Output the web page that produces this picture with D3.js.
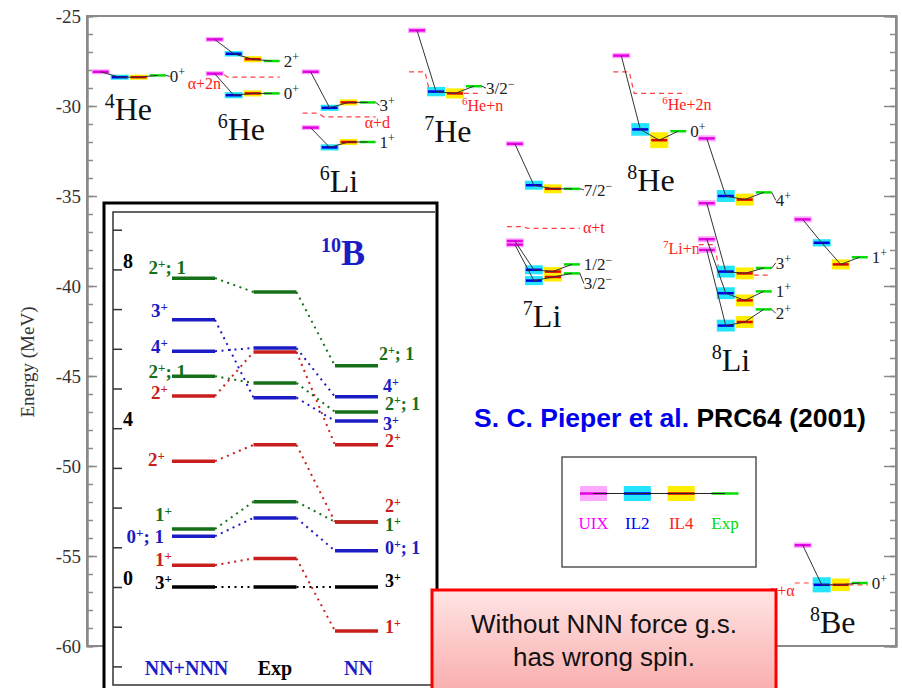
<!DOCTYPE html>
<html>
<head>
<meta charset="utf-8">
<script src="https://cdn.jsdelivr.net/npm/d3@7"></script>
<style>
  body { margin: 0; background: #fff; }
  svg { display: block; }
</style>
</head>
<body>
<svg id="chart" width="902" height="688"></svg>
<script>
// ---------------- data: light nuclei (MeV) ----------------
const models = ["UIX", "IL2", "IL4", "Exp"];
const groupNames = ["4He", "6He", "6Li", "7He", "7Li", "8He", "8Li", "8Be"];

const stateNucleus = ["4He", "6He", "6He", "6Li", "6Li", "7He", "7Li", "7Li", "7Li", "8He", "8Li", "8Li", "8Li", "8Li", "8Be", "8Be"];
const stateJpi = ["0^{+}", "2^{+}", "0^{+}", "3^{+}", "1^{+}", "3/2^{−}", "7/2^{−}", "1/2^{−}", "3/2^{−}", "0^{+}", "4^{+}", "3^{+}", "1^{+}", "2^{+}", "1^{+}", "0^{+}"];
const eUIX = [-28.1, -26.3, -28.2, -28.1, -31.2, -25.8, -32.1, -37.5, -37.7, -27.2, -31.8, -35.4, -37.4, -38.0, -36.3, -54.4];
const eIL2 = [-28.4, -27.1, -29.4, -30.1, -32.3, -29.2, -34.4, -39.1, -39.7, -31.3, -35.0, -39.2, -40.4, -42.2, -37.6, -56.6];
const eIL4 = [-28.4, -27.4, -29.3, -29.8, -32.0, -29.3, -34.6, -39.2, -39.5, -31.9, -35.2, -39.3, -40.8, -42.0, -38.8, -56.6];
const eExp = [-28.3, -27.5, -29.3, -29.8, -32.0, -28.9, -34.6, -38.8, -39.3, -31.4, -34.8, -39.0, -40.3, -41.3, -38.4, -56.5];
const errUIX = [0.05, 0.12, 0.12, 0.12, 0.12, 0.15, 0.15, 0.15, 0.15, 0.15, 0.17, 0.17, 0.17, 0.17, 0.17, 0.15];
const errIL2 = [0.05, 0.15, 0.17, 0.17, 0.17, 0.26, 0.25, 0.25, 0.25, 0.35, 0.33, 0.33, 0.33, 0.33, 0.2, 0.42];
const errIL4 = [0.05, 0.17, 0.17, 0.17, 0.17, 0.28, 0.25, 0.25, 0.25, 0.44, 0.33, 0.33, 0.33, 0.33, 0.28, 0.35];

const thrNucleus = ["6He", "6Li", "7He", "7Li", "8He", "8Li", "8Be"];
const thrLabel = ["α+2n", "α+d", "^{6}He+n", "α+t", "^{6}He+2n", "^{7}Li+n", "α+α"];
const thrUIX = [-28.2, -30.4, -28.1, -36.7, -28.1, -37.7, -56.5];
const thrOther = [-28.4, -30.6, -29.3, -36.8, -29.3, -39.4, -56.6];

// ---------------- data: 10B excitation spectrum (MeV) ----------------
const tenBColumns = ["NN+NNN", "Exp", "NN"];
const tenBJpi = ["2^{+}; 1", "3^{+}", "4^{+}", "2^{+}; 1", "2^{+}", "2^{+}", "1^{+}", "0^{+}; 1", "1^{+}", "3^{+}"];
const tenBFull = [7.78, 6.73, 5.94, 5.31, 4.81, 3.17, 1.46, 1.28, 0.55, 0];
const tenBExp = [7.43, 4.77, 6.02, 5.14, 5.92, 3.58, 2.15, 1.74, 0.72, 0];
const tenBNN = [5.57, 4.18, 4.79, 4.41, 3.58, 1.64, 1.64, 0.91, -1.11, 0];
const tenBTicks = [8, 4, 0];

// ---------------- layout / style ----------------
const groupSlot = [0.3, 6.3, 11.35, 16.95, 22.1, 27.7, 32.2, 37.25]; // first sub-level slot of each nucleus
const nucLabelDx = [0.63, 0.58, 0.9, 0.8, 0.84, 0.74, 0.68, 0.8];
const nucLabelE = [-30.8, -31.9, -34.8, -32.0, -42.3, -34.7, -44.7, -59.3];
const stateLabelShift = [1, 0, 0, 3, 0, 2, 1, 0, 10, 0, 8, -5, 0, 4, 0, 0];
const thrLabelDx = [-19, 62, 53, 76, 49, 1, 0];
const thrLabelE = [-29.05, -31.2, -30.3, -37.05, -30.2, -38.2, -57.2];
const thrLabelAnchor = ["start", "start", "start", "start", "start", "end", "end"];

const lineColor = ["#e600e6", "#0000dd", "#e00000", "#00dd00"];
const boxColor = ["#ffa8ff", "#22e4ff", "#ffee00"];
const legendText = ["#ff00ff", "#0000ff", "#ff2020", "#00dd00"];
const tenBPalette = ["#16701a", "#1c1cc4", "#1c1cc4", "#16701a", "#c81e1e", "#c81e1e", "#16701a", "#1c1cc4", "#c81e1e", "#000"];
const tenBLeftDx = [14, -4, -4, 14, -4, -7, 0, -8, 0, 0];
const tenBLeftDy = [-4.5, -2.5, 1.5, 1.5, 2.5, 4.5, -8.5, 6.5, 0.5, 1.5];
const tenBRightDx = [1, 5, 5, 7, 7, 7, 7, 7, 7, 7];
const tenBRightDy = [-5.5, 8.5, -4.5, -1.5, 2.5, -9.5, 9.5, 3.5, 1.5, -0.5];

const serif = "'Liberation Serif','Times New Roman',serif";
const sans = "'Liberation Sans',Arial,sans-serif";

const svg = d3.select("#chart");

// text with ^{...} superscripts
function rich(sel, str, size, supSize, rise) {
    const parts = str.split(/(\^\{[^}]*\})/).filter(p => p.length);
    let up = false;
    parts.forEach(p => {
        const sup = p.startsWith("^{");
        const t = sel.append("tspan").text(sup ? p.slice(2, -1) : p)
            .attr("font-size", sup ? supSize : size);
        if (sup) { t.attr("dy", -rise); up = true; }
        else if (up) { t.attr("dy", rise); up = false; }
    });
    return sel;
}

// ---------------- main plot ----------------
const x = d3.scaleLinear().domain([0, 42.58]).range([87, 896]);
const y = d3.scaleLinear().domain([-60, -25]).range([646, 16]);
const slotW = 0.84;

svg.append("rect")
    .attr("x", x(0)).attr("y", y(-25))
    .attr("width", x(42.58) - x(0)).attr("height", y(-60) - y(-25))
    .attr("fill", "none").attr("stroke", "#8a8a8a").attr("stroke-width", 2);

const leftAxis = svg.append("g").attr("transform", `translate(${x(0)},0)`)
    .call(d3.axisLeft(y).tickValues(d3.range(-60, -24, 5)).tickSizeInner(-10).tickSizeOuter(0)
        .tickPadding(6).tickFormat(d => String(d)));
leftAxis.selectAll("text").attr("font-family", serif).attr("font-size", 19).attr("fill", "#333");
svg.append("g").attr("transform", `translate(${x(0)},0)`)
    .call(d3.axisLeft(y).tickValues(d3.range(-60, -24, 1)).tickSize(-6).tickFormat(""));
svg.append("g").attr("transform", `translate(${x(42.58)},0)`)
    .call(d3.axisRight(y).tickValues(d3.range(-60, -24, 5)).tickSize(-12).tickFormat(""));
svg.append("g").attr("transform", `translate(${x(42.58)},0)`)
    .call(d3.axisRight(y).tickValues(d3.range(-60, -24, 1)).tickSize(-6).tickFormat(""));
svg.selectAll(".domain").attr("stroke", "#8a8a8a").attr("stroke-width", 2);
svg.selectAll(".tick line").attr("stroke", "#8a8a8a").attr("stroke-width", 1.5);

svg.append("text")
    .attr("transform", "translate(34,362) rotate(-90)")
    .attr("text-anchor", "middle")
    .attr("font-family", serif).attr("font-size", 19).attr("fill", "#333")
    .text("Energy (MeV)");

const states = stateNucleus.map((nuc, i) => ({
    g: groupNames.indexOf(nuc),
    jpi: stateJpi[i],
    e: [eUIX[i], eIL2[i], eIL4[i], eExp[i]],
    err: [errUIX[i], errIL2[i], errIL4[i], 0],
    shift: stateLabelShift[i]
}));
const levels = states.flatMap(s => s.e.map((e, m) => ({ m, e, err: s.err[m], x0: groupSlot[s.g] + m })));

// thresholds (dashed)
thrNucleus.forEach((nuc, i) => {
    const g0 = groupSlot[groupNames.indexOf(nuc)];
    const pts = [[x(g0), y(thrUIX[i])], [x(g0 + slotW), y(thrUIX[i])],
                 [x(g0 + 1.1), y(thrOther[i])], [x(g0 + 3 + slotW), y(thrOther[i])]];
    svg.append("path").attr("d", d3.line()(pts))
        .attr("fill", "none").attr("stroke", "#ff4040").attr("stroke-width", 1.2)
        .attr("stroke-dasharray", "5,4");
    rich(svg.append("text")
        .attr("x", x(g0) + thrLabelDx[i]).attr("y", y(thrLabelE[i]))
        .attr("text-anchor", thrLabelAnchor[i])
        .attr("font-family", serif).attr("fill", "#ff2020"), thrLabel[i], 16, 11, 6);
});

const lv = svg.append("g");
lv.selectAll("rect").data(levels.filter(d => d.m < 3)).join("rect")
    .attr("x", d => x(d.x0) - 1)
    .attr("width", x(slotW) - x(0) + 2)
    .attr("y", d => Math.min(y(d.e + d.err), y(d.e) - 2.5))
    .attr("height", d => Math.max(y(d.e - d.err) - y(d.e + d.err), 5))
    .attr("fill", d => boxColor[d.m]);
lv.selectAll("line").data(levels).join("line")
    .attr("x1", d => x(d.x0)).attr("x2", d => x(d.x0 + slotW))
    .attr("y1", d => y(d.e)).attr("y2", d => y(d.e))
    .attr("stroke", d => lineColor[d.m]).attr("stroke-width", 2.5);
lv.selectAll("path").data(states).join("path")
    .attr("d", s => d3.line()(s.e.map((e, m) => [x(groupSlot[s.g] + m + slotW / 2), y(e)])))
    .attr("fill", "none").attr("stroke", "#333").attr("stroke-width", 1);

// state labels
states.forEach(s => {
    const xe = x(groupSlot[s.g] + 3 + slotW), ye = y(s.e[3]);
    if (s.shift) {
        svg.append("line").attr("x1", xe).attr("y1", ye).attr("x2", xe + 4).attr("y2", ye + s.shift)
            .attr("stroke", "#333").attr("stroke-width", 1);
    }
    rich(svg.append("text").attr("x", xe + 4).attr("y", ye + s.shift + 6)
        .attr("font-family", serif).attr("fill", "#222"), s.jpi, 17, 12, 6);
});

// nucleus names
groupNames.forEach((n, i) => {
    rich(svg.append("text")
        .attr("x", x(groupSlot[i] + nucLabelDx[i])).attr("y", y(nucLabelE[i]))
        .attr("font-family", serif).attr("fill", "#111"),
        "^{" + n.match(/\d+/)[0] + "}" + n.replace(/\d+/, ""), 32, 20, 12);
});

// legend
const lg = svg.append("g");
lg.append("rect").attr("x", 562).attr("y", 457).attr("width", 194).attr("height", 110)
    .attr("fill", "#fff").attr("stroke", "#555").attr("stroke-width", 1.5);
const lgX = d3.scalePoint().domain(models).range([593.5, 725]);
models.forEach((m, i) => {
    if (i < 3) lg.append("rect").attr("x", lgX(m) - 13.5).attr("y", 486).attr("width", 27).attr("height", 15)
        .attr("fill", boxColor[i]);
    lg.append("line").attr("x1", lgX(m) - 13.5).attr("x2", lgX(m) + 13.5).attr("y1", 493.5).attr("y2", 493.5)
        .attr("stroke", lineColor[i]).attr("stroke-width", 2.5);
    lg.append("text").attr("x", lgX(m)).attr("y", 529).attr("text-anchor", "middle")
        .attr("font-family", serif).attr("font-size", 17).attr("fill", legendText[i]).text(m);
});
lg.append("line").attr("x1", lgX("UIX")).attr("x2", lgX("Exp")).attr("y1", 493.5).attr("y2", 493.5)
    .attr("stroke", "#222").attr("stroke-width", 1);

// reference
const ref = svg.append("text").attr("x", 474).attr("y", 427)
    .attr("font-family", sans).attr("font-weight", "bold").attr("font-size", 26.5);
ref.append("tspan").attr("fill", "#0000ee").text("S. C. Pieper et al. ");
ref.append("tspan").attr("fill", "#000").text("PRC64 (2001)");

// ---------------- 10B inset ----------------
const yB = d3.scaleLinear().domain([0, 8]).range([587, 269.4]);
const xB = d3.scalePoint().domain(tenBColumns).range([193.5, 356.5]);
const halfW = 21.5;

const inset = svg.append("g");
inset.append("rect").attr("x", 104).attr("y", 203).attr("width", 333).attr("height", 520)
    .attr("fill", "#fff").attr("stroke", "#000").attr("stroke-width", 3);
inset.append("path").attr("d", "M435,212H113V685H435")
    .attr("fill", "none").attr("stroke", "#333").attr("stroke-width", 1.5);
const bAxis = inset.append("g").attr("transform", "translate(113,0)")
    .call(d3.axisRight(yB).tickValues(d3.range(-2, 10)).tickSize(9).tickPadding(1)
        .tickFormat(d => tenBTicks.includes(d) ? d : ""));
bAxis.select(".domain").remove();
bAxis.selectAll(".tick line").attr("stroke", "#333").attr("stroke-width", 1.5);
bAxis.selectAll("text").attr("dy", "-0.12em").attr("font-family", serif).attr("font-weight", "bold")
    .attr("font-size", 20).attr("fill", "#000");

const tenB = tenBJpi.map((jpi, i) => ({ i, jpi, v: [tenBFull[i], tenBExp[i], tenBNN[i]] })).reverse();
tenB.forEach(d => {
    const c = tenBPalette[d.i];
    [[0, 1], [1, 2]].forEach(([a, b]) => {
        inset.append("line")
            .attr("x1", xB(tenBColumns[a]) + halfW).attr("y1", yB(d.v[a]))
            .attr("x2", xB(tenBColumns[b]) - halfW).attr("y2", yB(d.v[b]))
            .attr("stroke", c).attr("stroke-width", 2).attr("stroke-dasharray", "2,4.5");
    });
});
tenB.forEach(d => {
    const c = tenBPalette[d.i];
    d.v.forEach((v, k) => {
        inset.append("line")
            .attr("x1", xB(tenBColumns[k]) - halfW).attr("x2", xB(tenBColumns[k]) + halfW)
            .attr("y1", yB(v)).attr("y2", yB(v))
            .attr("stroke", c).attr("stroke-width", 3.5);
    });
    rich(inset.append("text")
        .attr("x", xB("NN+NNN") - halfW + tenBLeftDx[d.i]).attr("y", yB(d.v[0]) + tenBLeftDy[d.i])
        .attr("text-anchor", "end").attr("font-family", serif).attr("font-weight", "bold").attr("fill", c),
        d.jpi, 19, 13, 6);
    rich(inset.append("text")
        .attr("x", xB("NN") + halfW + tenBRightDx[d.i]).attr("y", yB(d.v[2]) + tenBRightDy[d.i])
        .attr("font-family", serif).attr("font-weight", "bold").attr("fill", c),
        d.jpi, 18, 12, 6);
});

const colDx = [-7, 0, 2];
tenBColumns.forEach((c, i) => {
    inset.append("text").attr("x", xB(c) + colDx[i]).attr("y", 675).attr("text-anchor", "middle")
        .attr("font-family", serif).attr("font-weight", "bold").attr("font-size", 20)
        .attr("fill", c === "Exp" ? "#000" : "#1c1cc4").text(c);
});
rich(inset.append("text").attr("x", 321).attr("y", 265)
    .attr("font-family", serif).attr("font-weight", "bold").attr("fill", "#1c1cc4"), "^{10}B", 36, 20, 13);

// ---------------- note box ----------------
const defs = svg.append("defs");
const grad = defs.append("linearGradient").attr("id", "noteFill").attr("x1", 0).attr("y1", 0).attr("x2", 0).attr("y2", 1);
grad.append("stop").attr("offset", "0%").attr("stop-color", "#ffe4e4");
grad.append("stop").attr("offset", "100%").attr("stop-color", "#f9a9a9");
svg.append("rect").attr("x", 432).attr("y", 590).attr("width", 344).attr("height", 110)
    .attr("fill", "url(#noteFill)").attr("stroke", "#ff0000").attr("stroke-width", 3);
const note = svg.append("text").attr("text-anchor", "middle")
    .attr("font-family", sans).attr("font-size", 26).attr("fill", "#111");
note.append("tspan").attr("x", 604).attr("y", 633).text("Without NNN force g.s.");
note.append("tspan").attr("x", 604).attr("y", 666).text("has wrong spin.");
</script>
</body>
</html>
